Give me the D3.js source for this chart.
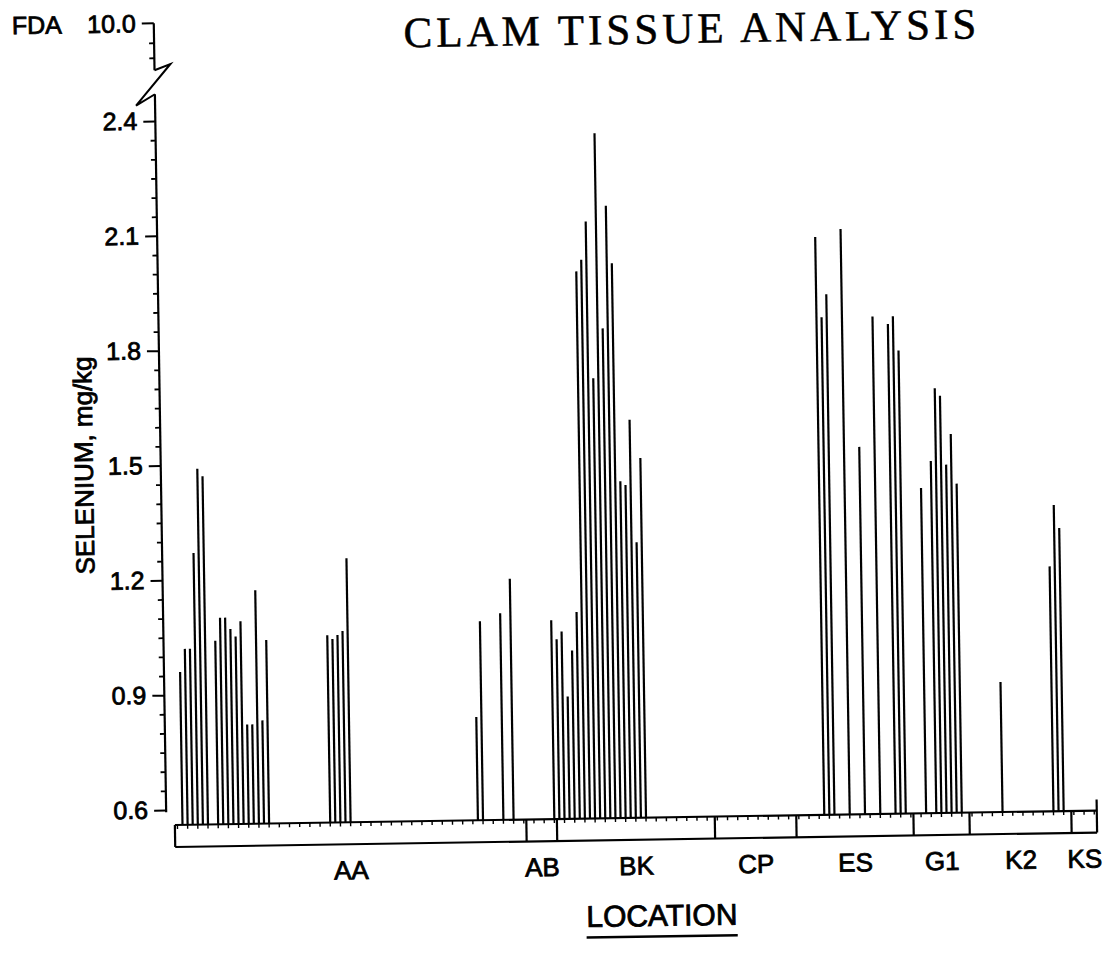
<!DOCTYPE html>
<html><head><meta charset="utf-8">
<script src="https://cdn.jsdelivr.net/npm/d3@7"></script>
<style>
body{margin:0;background:#fff;}
svg{display:block;}
text{font-family:"Liberation Sans",Arial,Helvetica,sans-serif;fill:#000;}
</style></head><body>
<svg id="chart" width="1110" height="961"></svg>
<script>
// ---------- data ----------
const title = "CLAM TISSUE ANALYSIS";
const yTitle = "SELENIUM, mg/kg";
const xTitle = "LOCATION";
const fdaLabel = "FDA";
const fdaValue = "10.0";
const locations = ["AA","AB","BK","CP","ES","G1","K2","KS"];
const yTicks = [0.6,0.9,1.2,1.5,1.8,2.1,2.4];
const yTickLabels = ["0.6","0.9","1.2","1.5","1.8","2.1","2.4"];
const _ = null;
// selenium (mg/kg) per sample slot within each location; null = no needle drawn
const AA = [_,0.96,1.02,1.02,1.27,1.49,1.47,_,1.04,1.10,
            1.10,1.07,1.05,1.09,0.82,0.82,1.17,0.83,1.04,_,
            _,_,_,_,_,_,_,_,_,_,
            1.05,1.04,1.05,1.06,1.25,_,_,_,_,_,
            _,_,_,_,_,_,_,_,_,_,
            _,_,_,_,_,_,_,_,_,0.83,
            1.08,_,_,_,1.10,_,1.19,_,_];
const AB = [_,_,_,_,_,1.08];
const BK = [1.03,1.05,0.88,1.00,1.10,1.99,2.02,2.12,1.71,2.35,
            1.84,2.16,2.01,1.44,1.43,1.60,1.28,1.50,_,_,
            _,_,_,_,_,_,_,_,_,_,
            _];
const CP = [_,_,_,_,_,_,_,_,_,_,_,_,_,_,_,_];
const ES = [_,_,_,_,_,2.07,1.86,1.92,_,_,
            2.09,_,_,1.52,_,_,1.86,_,_,1.84,
            1.86,1.77,_];
const G1 = [_,_,1.41,_,1.48,1.67,1.65,1.47,1.55,1.42,_];
const K2 = [_,_,_,_,_,_,0.90,_,_,_,
            _,_,_,_,_,_,1.20,1.36,1.30,_];
const KS = [_,_,_,_,_];

// ---------- build ----------
const series = {AA, AB, BK, CP, ES, G1, K2, KS};
const slots = [];
locations.forEach(loc => series[loc].forEach((v, i) => slots.push({loc, i, id: loc + "-" + i, v})));

const svg = d3.select("#chart");
const g = svg.append("g").attr("transform", "rotate(-0.9 555 480)");

const x = d3.scaleBand().domain(slots.map(d => d.id)).range([169.5, 1091.5]).padding(0);
const y = d3.scaleLinear().domain([0.6, 2.4]).range([803.8, 114.8]);
const bw = x.bandwidth();
const axisX = 161;
const baseY = 819;
const stripBottom = 841;
const TXT_STROKE = 0.8;

// needles
g.append("g").selectAll("line").data(slots.filter(d => d.v != null)).join("line")
  .attr("x1", d => x(d.id) + bw / 2).attr("x2", d => x(d.id) + bw / 2)
  .attr("y1", baseY).attr("y2", d => y(d.v))
  .attr("stroke", "#000").attr("stroke-width", 2.2);

// y axis (lower part)
const yAxis = d3.axisLeft(y).tickValues(yTicks)
  .tickFormat((d, i) => yTickLabels[i]).tickSize(12).tickPadding(6).tickSizeOuter(0);
const ga = g.append("g").attr("transform", `translate(${axisX},0)`).call(yAxis);
ga.select(".domain").remove();
ga.selectAll(".tick line").attr("stroke", "#000").attr("stroke-width", 2);
ga.selectAll(".tick text").style("font-size", "25px").attr("fill", "#000")
  .attr("stroke", "#000").attr("stroke-width", TXT_STROKE);
const minorVals = d3.range(0.6, 2.4001, 0.05).filter(v => !yTicks.some(t => Math.abs(t - v) < 1e-6));
const gm = g.append("g").attr("transform", `translate(${axisX},0)`)
  .call(d3.axisLeft(y).tickValues(minorVals).tickSize(5).tickFormat("").tickSizeOuter(0));
gm.select(".domain").remove();
gm.selectAll(".tick line").attr("stroke", "#000").attr("stroke-width", 1.8);

const breakTop = 64, breakLow = 88, fdaY = 17;
g.append("line").attr("x1", axisX).attr("x2", axisX).attr("y1", breakLow).attr("y2", 806)
  .attr("stroke", "#000").attr("stroke-width", 2.2);
// upper (FDA) segment with axis break
g.append("line").attr("x1", axisX).attr("x2", axisX).attr("y1", fdaY).attr("y2", breakTop)
  .attr("stroke", "#000").attr("stroke-width", 2.2);
g.append("line").attr("x1", axisX - 12).attr("x2", axisX).attr("y1", fdaY).attr("y2", fdaY)
  .attr("stroke", "#000").attr("stroke-width", 2);
[37, 52].forEach(yy => g.append("line").attr("x1", axisX - 5).attr("x2", axisX)
  .attr("y1", yy).attr("y2", yy).attr("stroke", "#000").attr("stroke-width", 1.8));
g.append("path")
  .attr("d", `M${axisX},${breakTop} L${axisX + 16},${breakTop - 6} L${axisX - 19},${breakTop + 35} L${axisX},${breakLow}`)
  .attr("fill", "none").attr("stroke", "#000").attr("stroke-width", 2);
g.append("text").attr("x", axisX - 18).attr("y", fdaY).attr("dy", "0.35em")
  .attr("text-anchor", "end").style("font-size", "25px").attr("stroke", "#000").attr("stroke-width", TXT_STROKE)
  .text(fdaValue);
g.append("text").attr("x", 19).attr("y", fdaY).attr("dy", "0.35em")
  .style("font-size", "25px").attr("stroke", "#000").attr("stroke-width", TXT_STROKE)
  .text(fdaLabel);

// x axis strip
const x0 = x.range()[0], x1 = x.range()[1];
g.append("line").attr("x1", x0).attr("x2", x1).attr("y1", baseY).attr("y2", baseY)
  .attr("stroke", "#000").attr("stroke-width", 2.2);
g.append("line").attr("x1", x0).attr("x2", x1).attr("y1", stripBottom).attr("y2", stripBottom)
  .attr("stroke", "#000").attr("stroke-width", 2.2);
g.append("g").selectAll("line").data(slots.filter((d, k) => k % 2 === 0)).join("line")
  .attr("x1", d => x(d.id) + bw / 2).attr("x2", d => x(d.id) + bw / 2)
  .attr("y1", baseY).attr("y2", baseY + 4)
  .attr("stroke", "#000").attr("stroke-width", 1.4);
const groupInfo = locations.map(loc => {
  const n = series[loc].length;
  const start = x(loc + "-0");
  return {loc, start, end: start + n * bw};
});
g.append("g").selectAll("line").data(groupInfo).join("line")
  .attr("x1", d => d.start).attr("x2", d => d.start)
  .attr("y1", baseY).attr("y2", stripBottom)
  .attr("stroke", "#000").attr("stroke-width", 2.2);
g.append("line").attr("x1", x1).attr("x2", x1).attr("y1", 808).attr("y2", stripBottom)
  .attr("stroke", "#000").attr("stroke-width", 2.2);
g.append("g").selectAll("text").data(groupInfo).join("text")
  .attr("x", d => (d.start + d.end) / 2).attr("y", 867).attr("dy", "0.35em")
  .attr("text-anchor", "middle").style("font-size", "26px")
  .attr("stroke", "#000").attr("stroke-width", TXT_STROKE)
  .text(d => d.loc);

// titles
g.append("text").attr("x", 699).attr("y", 45).attr("text-anchor", "middle")
  .style("font-family", "'Liberation Serif','Times New Roman',serif")
  .style("font-size", "43px").style("letter-spacing", "4px")
  .attr("stroke", "#000").attr("stroke-width", 0.5)
  .text(title);
g.append("text").attr("transform", "translate(84,458) rotate(-90)")
  .attr("text-anchor", "middle").attr("dy", "0.35em").style("font-size", "26px")
  .attr("stroke", "#000").attr("stroke-width", TXT_STROKE)
  .text(yTitle);
const xt = g.append("text").attr("x", 655).attr("y", 917).attr("dy", "0.35em")
  .attr("text-anchor", "middle").style("font-size", "30px")
  .attr("stroke", "#000").attr("stroke-width", TXT_STROKE)
  .text(xTitle);
const tl = xt.node().getComputedTextLength();
g.append("line").attr("x1", 655 - tl / 2).attr("x2", 655 + tl / 2)
  .attr("y1", 938).attr("y2", 938).attr("stroke", "#000").attr("stroke-width", 2.6);
</script></body></html>
